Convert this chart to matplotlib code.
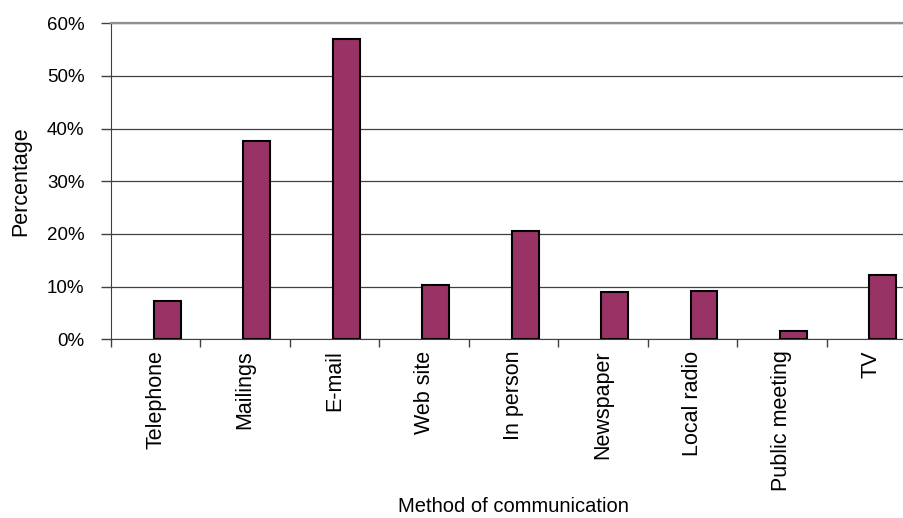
import numpy as np
import matplotlib
matplotlib.use("Agg")
import matplotlib.pyplot as plt
from matplotlib.ticker import PercentFormatter, MultipleLocator

# data
methods = ["Telephone", "Mailings", "E-mail", "Web site", "In person",
           "Newspaper", "Local radio", "Public meeting", "TV"]
share = [7.3, 37.6, 57.1, 10.4, 20.6, 8.9, 9.2, 1.6, 12.3]

plt.rcParams['font.family'] = ['Liberation Sans', 'DejaVu Sans']

fig = plt.figure(figsize=(9.04, 5.18), dpi=100)
# axes runs off the right edge, like the original crop
ax = fig.add_axes([111 / 904, 1 - 339.3 / 518, 805 / 904, 316 / 518])

x = np.arange(len(methods))
ax.bar(x + 0.13, share, width=0.3, color="#993366", edgecolor="black",
       linewidth=1.5, zorder=3)

ax.set_xlim(-0.5, len(methods) - 0.5)
ax.set_ylim(0, 60)
ax.yaxis.set_major_locator(MultipleLocator(10))
ax.yaxis.set_major_formatter(PercentFormatter(decimals=0))
ax.grid(axis="y", color="#404040", linewidth=0.9, zorder=0)

# category labels centred, tick marks between categories
ax.set_xticks(x)
ax.set_xticklabels(methods, rotation=90, fontsize=15.5)
ax.set_xticks(np.arange(len(methods) + 1) - 0.5, minor=True)
ax.tick_params(axis="x", which="major", length=0, pad=8)
ax.tick_params(axis="x", which="minor", length=6, width=1, color="#404040",
               direction="out")
ax.tick_params(axis="y", length=7, width=1, color="#404040", pad=12,
               labelsize=13.5)

ax.spines["right"].set_visible(False)
ax.spines["top"].set_color("#909090")
ax.spines["top"].set_linewidth(1.6)
ax.spines["left"].set_color("#404040")
ax.spines["bottom"].set_color("#404040")

fig.text(513 / 904, 1 - 507 / 518, "Method of communication", fontsize=14.5,
         ha="center", va="center")
ax.set_ylabel("Percentage", fontsize=15.5, labelpad=11)

fig.savefig("out.png", dpi=100)
